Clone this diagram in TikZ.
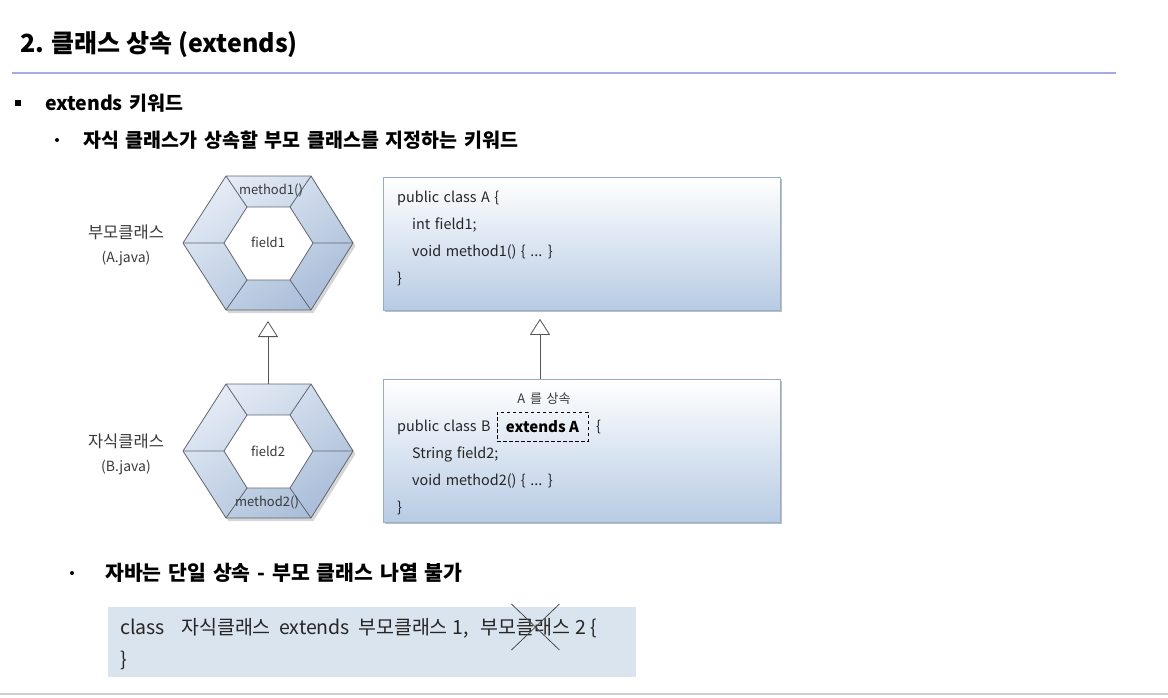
\documentclass[tikz,border=0pt]{standalone}
\usepackage{fontspec}
\setmainfont{Noto Sans CJK KR}
\usetikzlibrary{arrows.meta,calc,shadows}

\definecolor{titleline}{HTML}{A3ABE8}
\definecolor{footline}{HTML}{CFCFCF}
\definecolor{hexlight}{HTML}{E4EBF5}
\definecolor{hexdark}{HTML}{AABED9}
\definecolor{hexedge}{HTML}{5F6670}
\definecolor{boxedge}{HTML}{95ADCB}
\definecolor{boxblue}{HTML}{B7CBE4}
\definecolor{codebg}{HTML}{DAE4EE}
\definecolor{labelgray}{HTML}{3A3A3A}
\definecolor{arrowgray}{HTML}{555555}

% widen the interword space of the current font by a factor
\newcommand\widerspaces[1]{\spaceskip=#1\fontdimen2\font\relax}

\tikzset{
  titletxt/.style={font=\fontsize{25}{28}\selectfont\bfseries, anchor=west, inner sep=0},
  headtxt/.style={font=\fontsize{19.5}{22}\selectfont\bfseries\widerspaces{1.5},
    anchor=west, inner sep=0},
  sidelabel/.style={font=\fontsize{16.5}{18}\selectfont, text=labelgray, inner sep=0},
  sidefile/.style={font=\fontsize{14}{16}\selectfont, text=labelgray, inner sep=0},
  hextxt/.style={font=\fontsize{13}{14}\selectfont, text=labelgray, inner sep=0},
  codetxt/.style={font=\fontsize{14.4}{17}\selectfont\widerspaces{1.4},
    text=black!85, anchor=west, inner sep=0},
  notetxt/.style={font=\fontsize{19.5}{22}\selectfont, text=black!85, anchor=base west, inner sep=0},
  classbox/.style={draw=boxedge, line width=0.8pt, top color=white, bottom color=boxblue,
    minimum width=397pt, inner sep=0, anchor=north west,
    drop shadow={shadow xshift=2pt, shadow yshift=-2pt, fill=black, opacity=0.25}},
  inherit/.style={draw=arrowgray, line width=0.8pt,
    -{Triangle[open, length=16pt, width=20pt, line width=0.8pt]}},
  classhex/.pic={
    % drop shadow of the ring
    \fill[black, opacity=0.16, shift={(2.5,3)}]
      (-85,0) -- (-42,-67) -- (43,-67) -- (85,0) -- (43,67) -- (-42,67) -- cycle;
    % shaded outer ring
    \shade[top color=hexlight, bottom color=hexdark, shading angle=35]
      (-85,0) -- (-42,-67) -- (43,-67) -- (85,0) -- (43,67) -- (-42,67) -- cycle;
    % inner hexagon
    \fill[white]
      (-44,0) -- (-21,-36) -- (22,-36) -- (45,0) -- (22,37) -- (-21,37) -- cycle;
    \draw[hexedge, line width=0.8pt, line join=round]
      (-85,0) -- (-42,-67) -- (43,-67) -- (85,0) -- (43,67) -- (-42,67) -- cycle;
    \draw[hexedge, line width=0.8pt, line join=round]
      (-44,0) -- (-21,-36) -- (22,-36) -- (45,0) -- (22,37) -- (-21,37) -- cycle;
    % spokes joining the two hexagons
    \draw[hexedge, line width=0.8pt]
      (-85,0) -- (-44,0)  (-42,-67) -- (-21,-36)  (43,-67) -- (22,-36)
      (85,0) -- (45,0)    (43,67) -- (22,37)      (-42,67) -- (-21,37);
    \coordinate (-top) at (0,-67);
    \coordinate (-bot) at (0,67);
  }
}

\begin{document}
\begin{tikzpicture}[x=1pt, y=-1pt]
\useasboundingbox[fill=white] (0,0) rectangle (1168,697);

% heading
\node[titletxt] (title) at (20,45) {2. 클래스 상속 (extends)};
\draw[titleline, line width=1.5pt] (12,73) -- (1116,73);

\fill (15,100) rectangle (21,106);
\node[headtxt] (kw) at (45,103) {extends 키워드};
\fill (57,140) circle (2pt);
\node[headtxt] (kwdesc) at (83,140) {자식 클래스가 상속할 부모 클래스를 지정하는 키워드};

% parent / child class hexagons
\pic (hexA) at (268,243) {classhex};
\pic (hexB) at (268,451) {classhex};
\node[hextxt] (m1) at (271,190) {method1()};
\node[hextxt] (f1) at (268,242) {field1};
\node[hextxt] (f2) at (268,451) {field2};
\node[hextxt] (m2) at (267,502) {method2()};

\node[sidelabel] (pA) at (126,232) {부모클래스};
\node[sidefile] (pAf) at (126,258) {(A.java)};
\node[sidelabel] (cB) at (126,441) {자식클래스};
\node[sidefile] (cBf) at (126,467) {(B.java)};

\draw[inherit, shorten >=11pt] (hexB-top) -- (hexA-bot);

% source boxes
\node[classbox, minimum height=133pt] (boxA) at (383,177) {};
\node[codetxt] (a1) at (397,198) {public class A \{};
\node[codetxt] (a2) at (412,225) {int field1;};
\node[codetxt] (a3) at (412,252) {void method1() \{ ... \}};
\node[codetxt] (a4) at (397,279) {\}};

\node[classbox, minimum height=143pt] (boxB) at (383,379) {};
\node[codetxt] (b1) at (397,427) {public class B};
\node[draw, dashed, line width=1pt, dash pattern=on 3.5pt off 2.5pt, minimum width=91pt, minimum height=29pt,
      font=\fontsize{15}{18}\selectfont\bfseries, inner sep=0] (extA) at (542.5,426.5) {extends A};
\node[codetxt] (b1e) at (596,427) {\{};
\node[codetxt] (b2) at (412,454) {String field2;};
\node[codetxt] (b3) at (412,481) {void method2() \{ ... \}};
\node[codetxt] (b4) at (397,508) {\}};
\node[font=\fontsize{13}{15}\selectfont\widerspaces{1.6}, text=labelgray, inner sep=0]
  (inhLbl) at (544,399) {A 를 상속};

\coordinate (bIn) at (540,379);
\draw[inherit, shorten >=8pt] (bIn) -- (bIn |- boxA.south);

% single inheritance note
\fill (72,573) circle (2pt);
\node[headtxt, font=\fontsize{20.5}{23}\selectfont\bfseries\widerspaces{1.45}] (single) at (105,573)
  {자바는 단일 상속 - 부모 클래스 나열 불가};

\node[fill=codebg, minimum width=528pt, minimum height=70pt, inner sep=0, anchor=north west] (code) at (108,607) {};
\node[notetxt] (c1) at (120,634) {class};
\node[notetxt] (c2) at (181,634) {자식클래스};
\node[notetxt] (c3) at (279,634) {extends};
\node[notetxt] (c4) at (358,634) {부모클래스 1,};
\node[notetxt] (c5) at (480,634) {부모};
\node[notetxt] (c6) at (c5.base east) {클};
\node[notetxt] (c7) at (c6.base east) {래스 2 \{};
\node[notetxt] (c8) at (120,666) {\}};
\coordinate (cross) at ($(c6.center)+(10,0)$);
\draw[black!70, line width=0.8pt]
  ($(cross)+(-24,-23)$) -- ($(cross)+(24,23)$)
  ($(cross)+(24,-23)$) -- ($(cross)+(-24,23)$);

\draw[footline, line width=2pt] (0,694) -- (1168,694);
\end{tikzpicture}
\end{document}
